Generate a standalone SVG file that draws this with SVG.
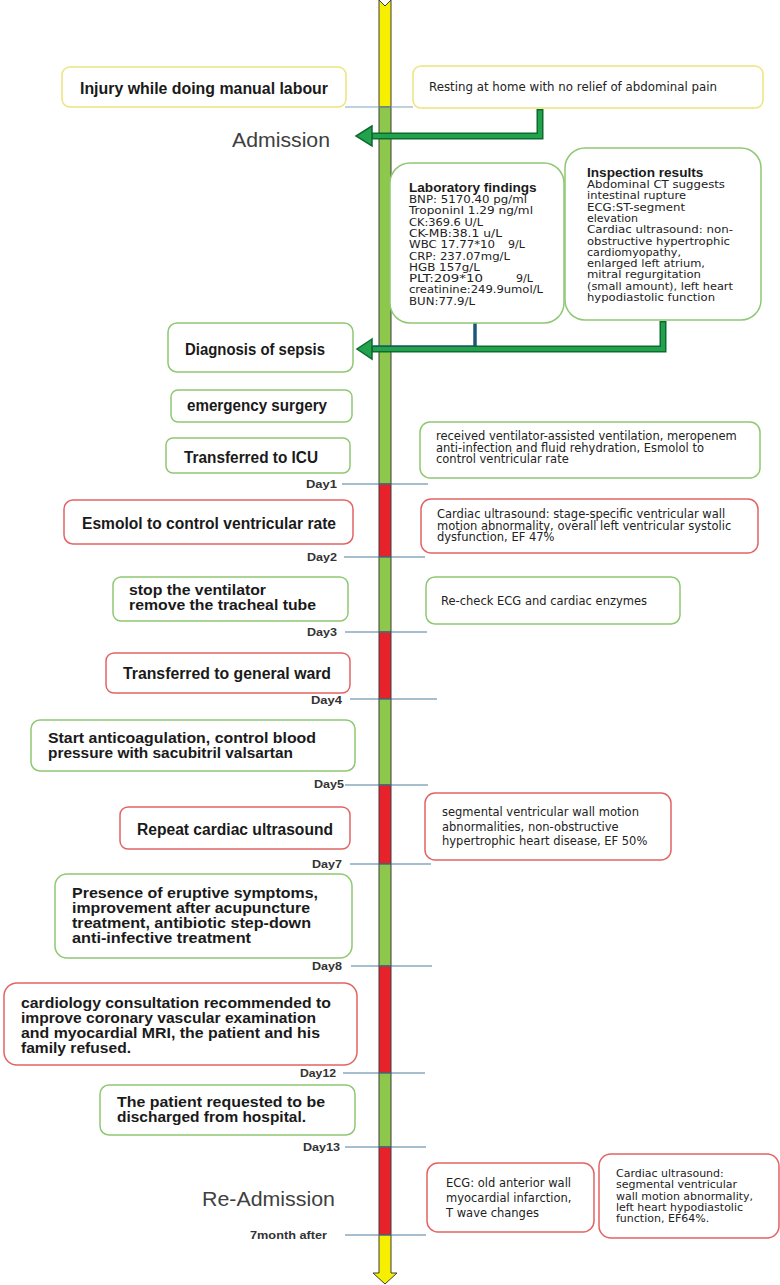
<svg xmlns="http://www.w3.org/2000/svg" width="780" height="1285" viewBox="0 0 780 1285">
<style>
.bx{fill:#fff;stroke-width:1.5}
.y{stroke:#ede47c}
.g{stroke:#8fc872}
.r{stroke:#e26464}
.lb{font-family:"Liberation Sans",Arial,sans-serif;font-weight:bold;font-size:16px;fill:#1a1a1a}
.lm{font-family:"Liberation Sans",Arial,sans-serif;font-weight:bold;font-size:15px;fill:#1a1a1a}
.sm{font-family:"DejaVu Sans",Verdana,sans-serif;font-size:11.5px;fill:#222}
.xs{font-family:"DejaVu Sans",Verdana,sans-serif;font-size:11px;fill:#222}
.tt{font-family:"Liberation Sans",Arial,sans-serif;font-weight:bold;font-size:13.6px;fill:#1a1a1a}
.day{font-family:"Liberation Sans",Arial,sans-serif;font-weight:bold;font-size:11px;fill:#333}
.big{font-family:"Liberation Sans",Arial,sans-serif;font-size:21px;fill:#404040}
.tick{stroke:#4f7f9c;stroke-width:1.2}
.seg{stroke:#3d3d3d;stroke-width:1}
.ao{fill:none;stroke:#0d6b30;stroke-width:7}
.ai{fill:none;stroke:#22a24c;stroke-width:4}
.ah{fill:#22a24c;stroke:#0d6b30;stroke-width:1.5}
</style>

<g id="timeline" class="seg">
<polygon points="379,0 385,6 391,0 391,107 379,107" fill="#f6f000"/>
<rect x="379" y="107" width="12" height="377" fill="#8dc84c"/>
<rect x="379" y="484" width="12" height="73" fill="#e8222a"/>
<rect x="379" y="557" width="12" height="75" fill="#8dc84c"/>
<rect x="379" y="632" width="12" height="67" fill="#e8222a"/>
<rect x="379" y="699" width="12" height="86" fill="#8dc84c"/>
<rect x="379" y="785" width="12" height="79" fill="#e8222a"/>
<rect x="379" y="864" width="12" height="102" fill="#8dc84c"/>
<rect x="379" y="966" width="12" height="107" fill="#e8222a"/>
<rect x="379" y="1073" width="12" height="74" fill="#8dc84c"/>
<rect x="379" y="1147" width="12" height="88" fill="#e8222a"/>
<polygon points="379,1235 391,1235 391,1273 397,1273 385,1284 373,1273 379,1273" fill="#f6f000"/>
</g>

<g id="connectors">
<line class="tick" x1="345" y1="107" x2="413" y2="107" style="stroke:#7fa3b9"/>
<line class="tick" x1="342" y1="484" x2="428" y2="484"/>
<line class="tick" x1="344" y1="557" x2="425" y2="557"/>
<line class="tick" x1="345" y1="632" x2="427" y2="632"/>
<line class="tick" x1="350" y1="699" x2="437" y2="699"/>
<line class="tick" x1="345" y1="785" x2="428" y2="785"/>
<line class="tick" x1="350" y1="864" x2="431" y2="864"/>
<line class="tick" x1="351" y1="966" x2="432" y2="966"/>
<line class="tick" x1="343" y1="1073" x2="425" y2="1073"/>
<line class="tick" x1="345" y1="1147" x2="426" y2="1147"/>
<line class="tick" x1="345" y1="1235" x2="426" y2="1235"/>
<path class="ao" d="M540,109 V136 H371"/>
<polygon class="ah" points="372,126 356,136 372,146"/>
<path class="ai" d="M540,110.5 V136 H373"/>
<line x1="475" y1="323" x2="475" y2="347" stroke="#1d5778" stroke-width="3.5"/>
<path class="ao" d="M663,321 V349 H371"/>
<polygon class="ah" points="372,339 357,349 372,359"/>
<path class="ai" d="M663,322.5 V349 H373"/>
<line x1="373" y1="346" x2="475" y2="346" stroke="#1d5778" stroke-width="1.2"/>
</g>

<g id="admission-label"><text class="big" x="232" y="147" textLength="98" lengthAdjust="spacingAndGlyphs">Admission</text></g>
<g id="readmission-label"><text class="big" x="202" y="1206" textLength="133" lengthAdjust="spacingAndGlyphs">Re-Admission</text></g>

<g id="day-labels">
<text class="day" x="306" y="488" textLength="31" lengthAdjust="spacingAndGlyphs">Day1</text>
<text class="day" x="307" y="561" textLength="30" lengthAdjust="spacingAndGlyphs">Day2</text>
<text class="day" x="307" y="636" textLength="30" lengthAdjust="spacingAndGlyphs">Day3</text>
<text class="day" x="311" y="704" textLength="31" lengthAdjust="spacingAndGlyphs">Day4</text>
<text class="day" x="314" y="788" textLength="30" lengthAdjust="spacingAndGlyphs">Day5</text>
<text class="day" x="312" y="868" textLength="30" lengthAdjust="spacingAndGlyphs">Day7</text>
<text class="day" x="312" y="970" textLength="30" lengthAdjust="spacingAndGlyphs">Day8</text>
<text class="day" x="300" y="1077" textLength="36" lengthAdjust="spacingAndGlyphs">Day12</text>
<text class="day" x="303" y="1151" textLength="37" lengthAdjust="spacingAndGlyphs">Day13</text>
<text class="day" x="250" y="1239" textLength="77" lengthAdjust="spacingAndGlyphs">7month after</text>
</g>

<g id="injury">
<rect class="bx y" x="62" y="67" width="284" height="40" rx="8"/>
<text class="lb" x="80" y="94" textLength="248" lengthAdjust="spacingAndGlyphs">Injury while doing manual labour</text>
</g>
<g id="resting">
<rect class="bx y" x="413" y="66" width="350" height="42" rx="8"/>
<text class="sm" x="429" y="91" textLength="288" lengthAdjust="spacingAndGlyphs">Resting at home with no relief of abdominal pain</text>
</g>

<g id="laboratory">
<rect class="bx g" x="390" y="163" width="174" height="160" rx="20"/>
<text class="tt" x="409" y="192">Laboratory findings</text>
<text class="xs" x="409" y="203" textLength="118" lengthAdjust="spacingAndGlyphs">BNP: 5170.40 pg/ml</text>
<text class="xs" x="409" y="214.3" textLength="124" lengthAdjust="spacingAndGlyphs">TroponinI 1.29 ng/ml</text>
<text class="xs" x="409" y="225.6" textLength="74" lengthAdjust="spacingAndGlyphs">CK:369.6 U/L</text>
<text class="xs" x="409" y="236.9" textLength="93" lengthAdjust="spacingAndGlyphs">CK-MB:38.1 u/L</text>
<text class="xs" x="409" y="248.2" textLength="86" lengthAdjust="spacingAndGlyphs">WBC 17.77*10</text><text class="xs" x="508" y="248.2">9/L</text>
<text class="xs" x="409" y="259.5" textLength="101" lengthAdjust="spacingAndGlyphs">CRP: 237.07mg/L</text>
<text class="xs" x="409" y="270.8" textLength="71" lengthAdjust="spacingAndGlyphs">HGB 157g/L</text>
<text class="xs" x="409" y="282.1" textLength="74" lengthAdjust="spacingAndGlyphs">PLT:209*10</text><text class="xs" x="516" y="282.1">9/L</text>
<text class="xs" x="409" y="293.4" textLength="134" lengthAdjust="spacingAndGlyphs">creatinine:249.9umol/L</text>
<text class="xs" x="409" y="304.7" textLength="66" lengthAdjust="spacingAndGlyphs">BUN:77.9/L</text>
</g>

<g id="inspection">
<rect class="bx g" x="565" y="148" width="196" height="172" rx="20"/>
<text class="tt" x="587" y="177">Inspection results</text>
<text class="xs" x="587" y="188" textLength="138" lengthAdjust="spacingAndGlyphs">Abdominal CT suggests</text>
<text class="xs" x="587" y="199.3" textLength="99" lengthAdjust="spacingAndGlyphs">intestinal rupture</text>
<text class="xs" x="587" y="210.6" textLength="98" lengthAdjust="spacingAndGlyphs">ECG:ST-segment</text>
<text class="xs" x="587" y="221.9" textLength="51" lengthAdjust="spacingAndGlyphs">elevation</text>
<text class="xs" x="587" y="233.2" textLength="146" lengthAdjust="spacingAndGlyphs">Cardiac ultrasound: non-</text>
<text class="xs" x="587" y="244.5" textLength="143" lengthAdjust="spacingAndGlyphs">obstructive hypertrophic</text>
<text class="xs" x="587" y="255.8" textLength="94" lengthAdjust="spacingAndGlyphs">cardiomyopathy,</text>
<text class="xs" x="587" y="267.1" textLength="118" lengthAdjust="spacingAndGlyphs">enlarged left atrium,</text>
<text class="xs" x="587" y="278.4" textLength="114" lengthAdjust="spacingAndGlyphs">mitral regurgitation</text>
<text class="xs" x="587" y="289.7" textLength="146" lengthAdjust="spacingAndGlyphs">(small amount), left heart</text>
<text class="xs" x="587" y="301" textLength="128" lengthAdjust="spacingAndGlyphs">hypodiastolic function</text>
</g>

<g id="sepsis">
<rect class="bx g" x="168" y="323" width="185" height="49" rx="9"/>
<text class="lb" x="185" y="355" textLength="140" lengthAdjust="spacingAndGlyphs">Diagnosis of sepsis</text>
</g>
<g id="surgery">
<rect class="bx g" x="171" y="390" width="181" height="32" rx="7"/>
<text class="lb" x="187" y="411" textLength="140" lengthAdjust="spacingAndGlyphs">emergency surgery</text>
</g>
<g id="icu">
<rect class="bx g" x="166" y="438" width="184" height="35" rx="7"/>
<text class="lb" x="184" y="463" textLength="134" lengthAdjust="spacingAndGlyphs">Transferred to ICU</text>
</g>
<g id="ventilation">
<rect class="bx g" x="420" y="422" width="340" height="56" rx="10"/>
<text class="sm" x="436" y="440">received ventilator-assisted ventilation, meropenem</text>
<text class="sm" x="436" y="451.5">anti-infection and fluid rehydration, Esmolol to</text>
<text class="sm" x="436" y="463">control ventricular rate</text>
</g>

<g id="esmolol">
<rect class="bx r" x="64" y="500" width="289" height="44" rx="9"/>
<text class="lb" x="82" y="529" textLength="254" lengthAdjust="spacingAndGlyphs">Esmolol to control ventricular rate</text>
</g>
<g id="ultrasound1">
<rect class="bx r" x="421" y="499" width="337" height="54" rx="10"/>
<text class="sm" x="437" y="518">Cardiac ultrasound: stage-specific ventricular wall</text>
<text class="sm" x="437" y="529.5">motion abnormality, overall left ventricular systolic</text>
<text class="sm" x="437" y="541">dysfunction, EF 47%</text>
</g>

<g id="extubation">
<rect class="bx g" x="113" y="577" width="235" height="44" rx="8"/>
<text class="lm" x="129" y="595" textLength="137" lengthAdjust="spacingAndGlyphs">stop the ventilator</text>
<text class="lm" x="129" y="610" textLength="187" lengthAdjust="spacingAndGlyphs">remove the tracheal tube</text>
</g>
<g id="recheck">
<rect class="bx g" x="426" y="577" width="254" height="47" rx="9"/>
<text class="sm" x="441" y="605">Re-check ECG and cardiac enzymes</text>
</g>

<g id="general-ward">
<rect class="bx r" x="106" y="653" width="244" height="40" rx="8"/>
<text class="lb" x="123" y="679" textLength="208" lengthAdjust="spacingAndGlyphs">Transferred to general ward</text>
</g>

<g id="anticoagulation">
<rect class="bx g" x="31" y="720" width="324" height="51" rx="9"/>
<text class="lm" x="48" y="743" textLength="268" lengthAdjust="spacingAndGlyphs">Start anticoagulation, control blood</text>
<text class="lm" x="48" y="758" textLength="245" lengthAdjust="spacingAndGlyphs">pressure with sacubitril valsartan</text>
</g>

<g id="repeat-ultrasound">
<rect class="bx r" x="120" y="807" width="230" height="42" rx="8"/>
<text class="lb" x="137" y="835" textLength="196" lengthAdjust="spacingAndGlyphs">Repeat cardiac ultrasound</text>
</g>
<g id="ultrasound2">
<rect class="bx r" x="425" y="793" width="246" height="67" rx="10"/>
<text class="sm" x="442" y="816">segmental ventricular wall motion</text>
<text class="sm" x="442" y="831">abnormalities, non-obstructive</text>
<text class="sm" x="442" y="845">hypertrophic heart disease, EF 50%</text>
</g>

<g id="eruptive">
<rect class="bx g" x="55" y="874" width="297" height="84" rx="12"/>
<text class="lm" x="72" y="898" textLength="246" lengthAdjust="spacingAndGlyphs">Presence of eruptive symptoms,</text>
<text class="lm" x="72" y="913" textLength="238" lengthAdjust="spacingAndGlyphs">improvement after acupuncture</text>
<text class="lm" x="72" y="928" textLength="239" lengthAdjust="spacingAndGlyphs">treatment, antibiotic step-down</text>
<text class="lm" x="72" y="943" textLength="179" lengthAdjust="spacingAndGlyphs">anti-infective treatment</text>
</g>

<g id="cardiology">
<rect class="bx r" x="4" y="983" width="353" height="82" rx="13"/>
<text class="lm" x="21" y="1008" textLength="310" lengthAdjust="spacingAndGlyphs">cardiology consultation recommended to</text>
<text class="lm" x="21" y="1023" textLength="295" lengthAdjust="spacingAndGlyphs">improve coronary vascular examination</text>
<text class="lm" x="21" y="1038" textLength="299" lengthAdjust="spacingAndGlyphs">and myocardial MRI, the patient and his</text>
<text class="lm" x="21" y="1053" textLength="110" lengthAdjust="spacingAndGlyphs">family refused.</text>
</g>

<g id="discharge">
<rect class="bx g" x="100" y="1085" width="255" height="50" rx="9"/>
<text class="lm" x="117" y="1107" textLength="208" lengthAdjust="spacingAndGlyphs">The patient requested to be</text>
<text class="lm" x="117" y="1122" textLength="189" lengthAdjust="spacingAndGlyphs">discharged from hospital.</text>
</g>

<g id="ecg">
<rect class="bx r" x="427" y="1163" width="167" height="69" rx="11"/>
<text class="sm" x="446" y="1187">ECG: old anterior wall</text>
<text class="sm" x="446" y="1202">myocardial infarction,</text>
<text class="sm" x="446" y="1217">T wave changes</text>
</g>
<g id="ultrasound3">
<rect class="bx r" x="599" y="1154" width="180" height="84" rx="12"/>
<text class="xs" x="616" y="1177">Cardiac ultrasound:</text>
<text class="xs" x="616" y="1188.3">segmental ventricular</text>
<text class="xs" x="616" y="1199.6">wall motion abnormality,</text>
<text class="xs" x="616" y="1210.9">left heart hypodiastolic</text>
<text class="xs" x="616" y="1222.2">function, EF64%.</text>
</g>
</svg>
